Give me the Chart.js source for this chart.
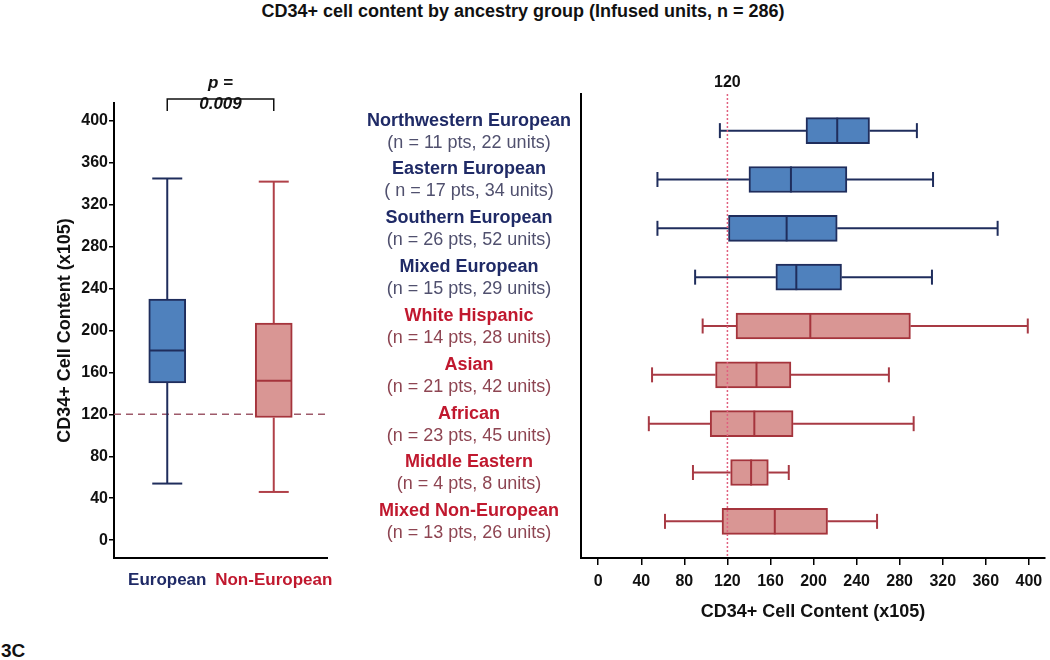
<!DOCTYPE html>
<html>
<head>
<meta charset="utf-8">
<script src="https://cdn.jsdelivr.net/npm/chart.js@4.4.1/dist/chart.umd.min.js"></script>
<style>
  body { margin: 0; background: #fff; font-family: "Liberation Sans", Arial, sans-serif; }
  #page { position: relative; width: 1050px; height: 660px; }
  #titre { position: absolute; top: 1px; left: 0; width: 1046px; text-align: center; font-weight: bold; font-size: 18px; color: #111; }
  #gauche { position: absolute; left: 0; top: 40px; }
  #droite { position: absolute; left: 350px; top: 40px; }
  #figure { position: absolute; left: 1px; top: 640px; font-weight: bold; font-size: 19px; color: #111; }
</style>
</head>
<body>
<div id="page">
  <div id="titre">CD34+ cell content by ancestry group (Infused units, n = 286)</div>
  <canvas id="gauche" width="360" height="580"></canvas>
  <canvas id="droite" width="700" height="600"></canvas>
  <div id="figure">3C</div>
</div>
<script>
//? Données.

const groupesGauche = ["European", "Non-European"];
const minGauche = [54, 46];
const q1Gauche = [150, 117];
const medianeGauche = [181, 152];
const q3Gauche = [230, 207];
const maxGauche = [345, 342];

const groupesDroite = [
  "Northwestern European",
  "Eastern European",
  "Southern European",
  "Mixed European",
  "White Hispanic",
  "Asian",
  "African",
  "Middle Eastern",
  "Mixed Non-European",
];
const effectifsDroite = [
  "(n = 11 pts, 22 units)",
  "( n = 17 pts, 34 units)",
  "(n = 26 pts, 52 units)",
  "(n = 15 pts, 29 units)",
  "(n = 14 pts, 28 units)",
  "(n = 21 pts, 42 units)",
  "(n = 23 pts, 45 units)",
  "(n = 4 pts, 8 units)",
  "(n = 13 pts, 26 units)",
];
const europeenDroite = [true, true, true, true, false, false, false, false, false];
const minDroite = [113, 55, 55, 90, 97, 50, 47, 88, 62];
const q1Droite = [193, 140, 121, 165, 128, 109, 104, 123, 115];
const medianeDroite = [222, 179, 175, 184, 197, 147, 145, 142, 164];
const q3Droite = [252, 231, 222, 226, 290, 179, 181, 158, 213];
const maxDroite = [296, 311, 371, 310, 399, 270, 293, 177, 259];

const valeursTicks = [0, 40, 80, 120, 160, 200, 240, 280, 320, 360, 400];
const seuil = 120;
const pValeur = "0.009";

//? Couleurs.

const bleuFond = "#4F81BD";
const bleuBord = "#1F2D5C";
const rougeFond = "#D99694";
const rougeBord = "#A5343C";
const bleuTexte = "#1F2A66";
const rougeTexte = "#C0182E";
const police = '"Liberation Sans", Arial, sans-serif';

Chart.defaults.font.family = police;
Chart.defaults.color = "#111";

//? Moustaches et médianes, via les échelles du graphique.

const ligne = (ctx, x1, y1, x2, y2) => {
  ctx.beginPath();
  ctx.moveTo(x1, y1);
  ctx.lineTo(x2, y2);
  ctx.stroke();
};

const dessinerMoustaches = (chart, o) => {
  const { ctx, scales } = chart;
  const echIndex = o.horizontal ? scales.y : scales.x;
  const echValeur = o.horizontal ? scales.x : scales.y;
  const pt = (v, c, d) => (o.horizontal ? [echValeur.getPixelForValue(v), c + d] : [c + d, echValeur.getPixelForValue(v)]);
  ctx.save();
  ctx.lineWidth = 2;
  o.mins.forEach((mn, i) => {
    const c = echIndex.getPixelForValue(o.positions[i]);
    ctx.strokeStyle = o.couleurs[i];
    ligne(ctx, ...pt(mn, c, 0), ...pt(o.q1[i], c, 0));
    ligne(ctx, ...pt(o.q3[i], c, 0), ...pt(o.maxs[i], c, 0));
    ligne(ctx, ...pt(mn, c, -o.chapeau), ...pt(mn, c, o.chapeau));
    ligne(ctx, ...pt(o.maxs[i], c, -o.chapeau), ...pt(o.maxs[i], c, o.chapeau));
    ctx.strokeStyle = o.couleursMediane[i];
    ligne(ctx, ...pt(o.medianes[i], c, -o.demiBoite), ...pt(o.medianes[i], c, o.demiBoite));
  });
  ctx.restore();
};

//? Graphique de gauche : européens / non européens.

const pluginGauche = {
  id: "boitesGauche",
  beforeDatasetsDraw: (chart) => {
    const { ctx, chartArea, scales } = chart;
    const y = scales.y.getPixelForValue(seuil);
    ctx.save();
    ctx.strokeStyle = "#9E5A6A";
    ctx.lineWidth = 1.5;
    ctx.setLineDash([7, 5]);
    ligne(ctx, chartArea.left, y, chartArea.right, y);
    ctx.restore();
  },
  afterDatasetsDraw: (chart) => {
    dessinerMoustaches(chart, {
      horizontal: false,
      positions: [0, 1],
      mins: minGauche,
      q1: q1Gauche,
      medianes: medianeGauche,
      q3: q3Gauche,
      maxs: maxGauche,
      couleurs: [bleuBord, "#B04048"],
      couleursMediane: [bleuBord, rougeBord],
      chapeau: 15,
      demiBoite: 18,
    });
    // crochet de la valeur p
    const { ctx, chartArea, scales } = chart;
    const xa = scales.x.getPixelForValue(0);
    const xb = scales.x.getPixelForValue(1);
    const yc = chartArea.top - 4;
    ctx.save();
    ctx.strokeStyle = "#111";
    ctx.lineWidth = 1.5;
    ctx.beginPath();
    ctx.moveTo(xa, yc + 12);
    ctx.lineTo(xa, yc);
    ctx.lineTo(xb, yc);
    ctx.lineTo(xb, yc + 12);
    ctx.stroke();
    ctx.fillStyle = "#111";
    ctx.textAlign = "center";
    ctx.textBaseline = "middle";
    ctx.font = "italic bold 17px " + police;
    ctx.fillText("p =", (xa + xb) / 2, chartArea.top - 20);
    ctx.fillText(pValeur, (xa + xb) / 2, chartArea.top + 1);
    ctx.restore();
  },
};

new Chart(document.getElementById("gauche"), {
  type: "bar",
  data: {
    labels: groupesGauche,
    datasets: [
      {
        data: groupesGauche.map((g, i) => [q1Gauche[i], q3Gauche[i]]),
        backgroundColor: [bleuFond, rougeFond],
        borderColor: [bleuBord, rougeBord],
        borderWidth: 2,
        borderSkipped: false,
        barThickness: 37,
      },
    ],
  },
  options: {
    responsive: false,
    devicePixelRatio: 1,
    animation: false,
    layout: { padding: { left: 50, top: 63, right: 33, bottom: 22 } },
    plugins: { legend: { display: false }, tooltip: { enabled: false } },
    scales: {
      x: {
        grid: { display: false },
        border: { color: "#000", width: 2 },
        ticks: {
          color: [bleuTexte, rougeTexte],
          font: { size: 17, weight: "bold" },
          autoSkip: false,
          maxRotation: 0,
          minRotation: 0,
          padding: 4,
        },
        afterFit: (s) => { s.height = 40; },
      },
      y: {
        min: -17,
        max: 417,
        afterBuildTicks: (s) => { s.ticks = valeursTicks.map((v) => ({ value: v })); },
        grid: { drawOnChartArea: false, tickLength: 5, color: "#000", lineWidth: 1.5 },
        border: { color: "#000", width: 2 },
        ticks: { font: { size: 16, weight: "bold" }, padding: 1 },
        title: { display: true, text: "CD34+ Cell Content (x105)", font: { size: 18, weight: "bold" } },
        afterFit: (s) => { s.width = 64; },
      },
    },
  },
  plugins: [pluginGauche],
});

//? Graphique de droite : groupes d'ascendance.

const pluginDroite = {
  id: "boitesDroite",
  afterDatasetsDraw: (chart) => {
    dessinerMoustaches(chart, {
      horizontal: true,
      positions: groupesDroite.map((g, i) => i + 1),
      mins: minDroite,
      q1: q1Droite,
      medianes: medianeDroite,
      q3: q3Droite,
      maxs: maxDroite,
      couleurs: europeenDroite.map((e) => (e ? bleuBord : "#A83A44")),
      couleursMediane: europeenDroite.map((e) => (e ? bleuBord : rougeBord)),
      chapeau: 7.5,
      demiBoite: 13,
    });
    const { ctx, chartArea, scales } = chart;
    const x = scales.x.getPixelForValue(seuil);
    ctx.save();
    ctx.strokeStyle = "#E0607E";
    ctx.lineWidth = 1.5;
    ctx.setLineDash([2, 2]);
    ligne(ctx, x, chartArea.top, x, chartArea.bottom);
    ctx.setLineDash([]);
    ctx.fillStyle = "#111";
    ctx.textAlign = "center";
    ctx.textBaseline = "middle";
    ctx.font = "bold 16px " + police;
    ctx.fillText(String(seuil), x, chartArea.top - 11);
    ctx.restore();
  },
  afterDraw: (chart) => {
    const { ctx, chartArea, scales } = chart;
    const xc = chartArea.left - 112;
    ctx.save();
    ctx.textAlign = "center";
    ctx.textBaseline = "middle";
    groupesDroite.forEach((g, i) => {
      const y = scales.y.getPixelForValue(i + 1);
      ctx.font = "bold 18px " + police;
      ctx.fillStyle = europeenDroite[i] ? bleuTexte : rougeTexte;
      ctx.fillText(g, xc, y - 10);
      ctx.font = "18px " + police;
      ctx.fillStyle = europeenDroite[i] ? "#50506E" : "#8E4552";
      ctx.fillText(effectifsDroite[i], xc, y + 12);
    });
    ctx.restore();
  },
};

new Chart(document.getElementById("droite"), {
  type: "bar",
  data: {
    datasets: [
      {
        data: groupesDroite.map((g, i) => ({ x: [q1Droite[i], q3Droite[i]], y: i + 1 })),
        backgroundColor: europeenDroite.map((e) => (e ? bleuFond : rougeFond)),
        borderColor: europeenDroite.map((e) => (e ? bleuBord : rougeBord)),
        borderWidth: 2,
        borderSkipped: false,
        barThickness: 26,
      },
    ],
  },
  options: {
    indexAxis: "y",
    responsive: false,
    devicePixelRatio: 1,
    animation: false,
    layout: { padding: { left: 231, top: 54, right: 5, bottom: 13 } },
    plugins: { legend: { display: false }, tooltip: { enabled: false } },
    scales: {
      x: {
        type: "linear",
        min: -16,
        max: 415,
        afterBuildTicks: (s) => { s.ticks = valeursTicks.map((v) => ({ value: v })); },
        grid: { drawOnChartArea: false, tickLength: 7, color: "#000", lineWidth: 1.5 },
        border: { color: "#000", width: 2 },
        ticks: { font: { size: 16, weight: "bold" }, padding: 7 },
        title: { display: true, text: "CD34+ Cell Content (x105)", font: { size: 18, weight: "bold" } },
        afterFit: (s) => { s.height = 69; },
      },
      y: {
        type: "linear",
        min: 0.25,
        max: 9.75,
        reverse: true,
        offset: false,
        grid: { display: false },
        border: { color: "#000", width: 2 },
        ticks: { display: false },
        afterFit: (s) => { s.width = 0; },
      },
    },
  },
  plugins: [pluginDroite],
});
</script>
</body>
</html>
